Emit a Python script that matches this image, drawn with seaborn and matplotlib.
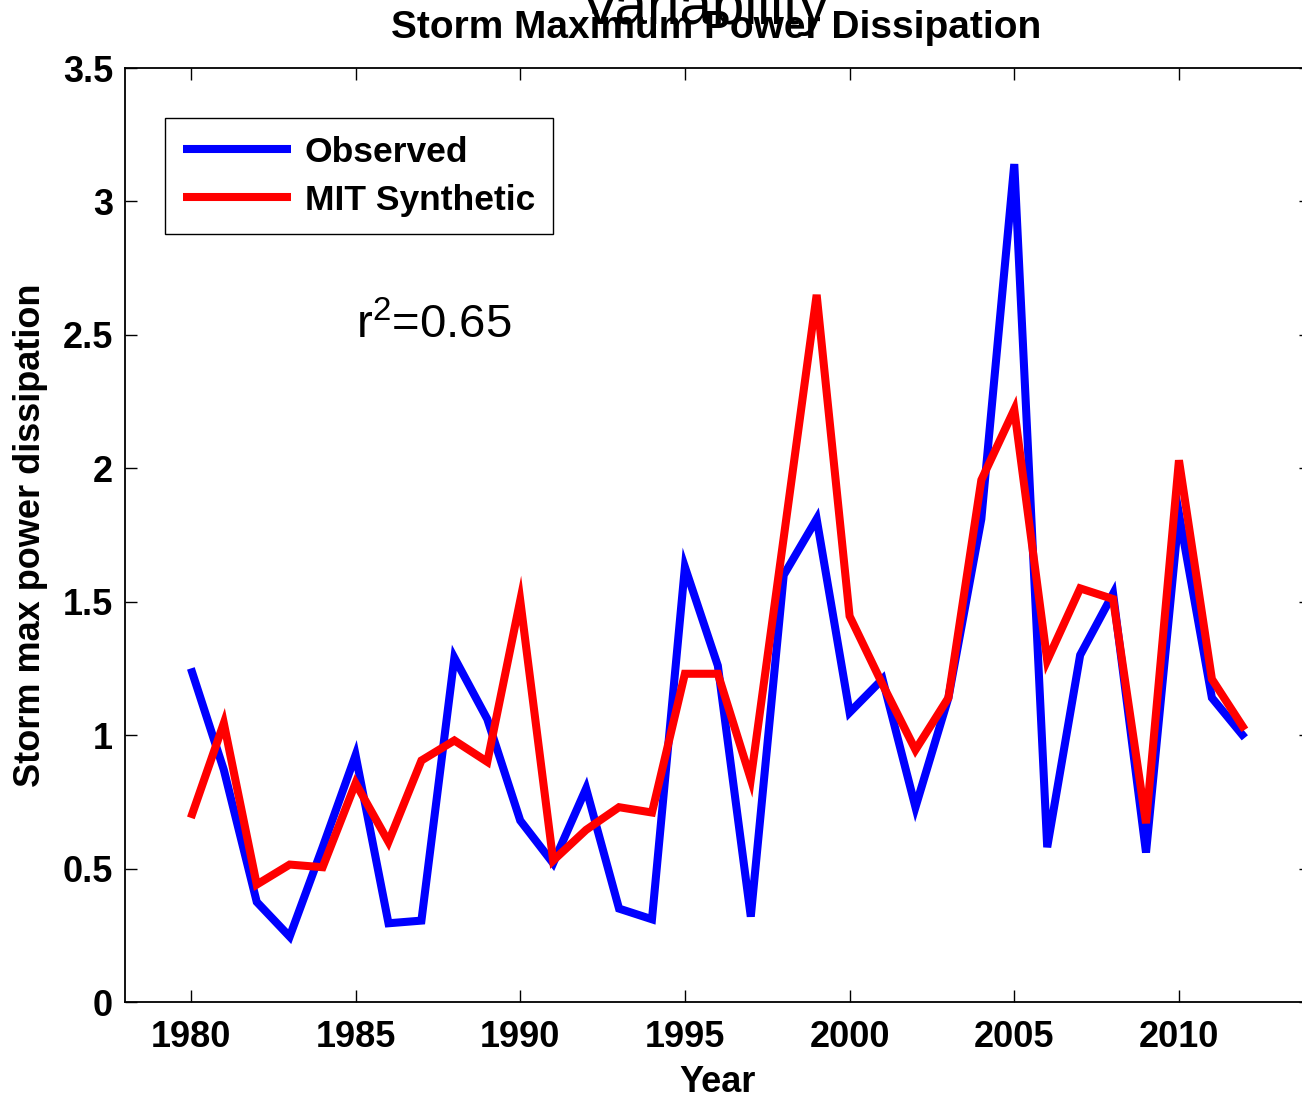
import numpy as np
import pandas as pd
import matplotlib
matplotlib.use("Agg")
import matplotlib.pyplot as plt
import seaborn as sns

# ---- data ----
years = list(range(1980, 2013))
observed = [1.25, 0.87, 0.375, 0.245, 0.58, 0.925, 0.295, 0.305, 1.29, 1.06,
            0.68, 0.52, 0.80, 0.35, 0.31, 1.63, 1.26, 0.32, 1.60, 1.81,
            1.085, 1.21, 0.73, 1.14, 1.81, 3.14, 0.58, 1.30, 1.53, 0.56,
            1.83, 1.14, 0.99]
synthetic = [0.69, 1.045, 0.44, 0.515, 0.505, 0.82, 0.60, 0.905, 0.98, 0.90,
             1.505, 0.53, 0.645, 0.73, 0.71, 1.23, 1.23, 0.835, 1.74, 2.65,
             1.446, 1.19, 0.945, 1.14, 1.956, 2.22, 1.28, 1.55, 1.51, 0.67,
             2.03, 1.21, 1.02]
series_names = ["Observed", "MIT Synthetic"]
colors = {"Observed": "#0000ff", "MIT Synthetic": "#ff0000"}
xticks = [1980, 1985, 1990, 1995, 2000, 2005, 2010]
yticks = [0, 0.5, 1, 1.5, 2, 2.5, 3, 3.5]
ytick_labels = ["0", "0.5", "1", "1.5", "2", "2.5", "3", "3.5"]

df = pd.DataFrame({
    "Year": years * 2,
    "value": observed + synthetic,
    "series": [series_names[0]] * len(years) + [series_names[1]] * len(years),
})

sns.set_style("ticks")
plt.rcParams["font.family"] = ["Liberation Sans", "DejaVu Sans"]
plt.rcParams["font.weight"] = "bold"
for k in ["text.color", "axes.labelcolor", "xtick.color", "ytick.color", "axes.edgecolor"]:
    plt.rcParams[k] = "black"
plt.rcParams["mathtext.default"] = "regular"

W, H = 1302, 1098
fig = plt.figure(figsize=(W / 100, H / 100), dpi=100)
x_left, x_right = 125, 1310.7
y_top, y_bot = 68, 1002
ax = fig.add_axes([x_left / W, 1 - y_bot / H, (x_right - x_left) / W, (y_bot - y_top) / H])

sns.lineplot(data=df, x="Year", y="value", hue="series", hue_order=series_names,
             palette=colors, linewidth=5.8, ax=ax, legend=True)
for ln in ax.get_lines():
    ln.set_solid_joinstyle("miter")
    ln.set_solid_capstyle("butt")

ax.set_xlim(1978, 2014)
ax.set_ylim(0, 3.5)
ax.set_xticks(xticks)
ax.set_xticklabels([str(t) for t in xticks])
ax.set_yticks(yticks)
ax.set_yticklabels(ytick_labels)
ax.tick_params(direction="in", length=8.6, width=1.0, top=True, right=True,
               labelsize=26, color="black", labelcolor="black")
ax.tick_params(axis="x", pad=13)
ax.tick_params(axis="y", pad=8.5)
for s in ax.spines.values():
    s.set_visible(True)
    s.set_linewidth(1.3)
    s.set_color("black")

ax.set_xlabel("Year", fontsize=26, fontweight="bold", labelpad=7, color="black")
ax.set_ylabel("Storm max power dissipation", fontsize=26, fontweight="bold",
              labelpad=11, color="black")

handles, labels = ax.get_legend_handles_labels()
leg = ax.legend(handles, labels, loc="upper left",
                bbox_to_anchor=((165 - x_left) / (x_right - x_left), 1 - (118 - y_top) / (y_bot - y_top)),
                borderaxespad=0, frameon=True, fancybox=False, framealpha=1,
                edgecolor="black", prop={"size": 25.5, "weight": "bold"},
                handlelength=3.05, handletextpad=0.4, labelspacing=0.42,
                borderpad=0.5)
leg.get_frame().set_linewidth(1.0)
for lh in leg.get_lines():
    lh.set_linewidth(5.8)
    lh.set_solid_capstyle("butt")
for t in leg.get_texts():
    t.set_color("black")

ax.text(1985.0, 2.488, r"r$^{2}$=0.65", fontsize=34, fontweight="normal",
        ha="left", va="baseline", color="black")

fig.text(716 / W, 1 - 38 / H, "Storm Maximum Power Dissipation", fontsize=28,
         fontweight="bold", ha="center", va="baseline", color="black")
fig.text(705 / W, 1 - 24 / H, "Variability", fontsize=42, fontweight="normal",
         ha="center", va="baseline", color="black")

fig.savefig("out.png", dpi=100)
